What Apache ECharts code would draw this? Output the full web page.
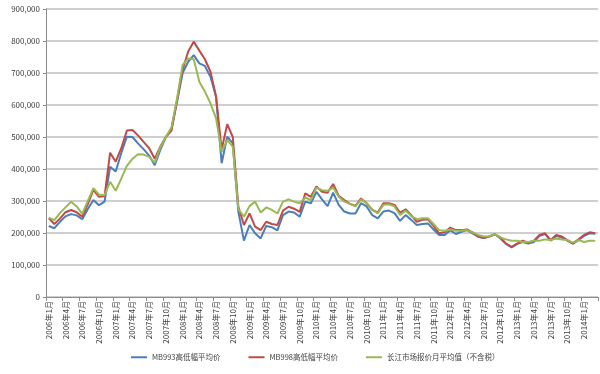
<!DOCTYPE html>
<html>
<head>
<meta charset="utf-8">
<script src="https://cdn.jsdelivr.net/npm/echarts@6/dist/echarts.min.js"></script>
<style>
html,body{margin:0;padding:0;background:#fff;}
#chart{width:600px;height:374px;}
</style>
</head>
<body>
<div id="chart"></div>
<script>
// Categories: monthly, 2006年1月 .. 2014年3月
var startYear = 2006, monthCount = 99;
var categories = [];
for (var k = 0; k < monthCount; k++) {
  categories.push((startYear + Math.floor(k / 12)) + '年' + (k % 12 + 1) + '月');
}

var seriesNames = ['MB993高低幅平均价', 'MB998高低幅平均价', '长江市场报价月平均值（不含税）'];

// values in thousands (yuan/ton)
var mb993 = [222,215,235,252,259,255,243,275,303,287,298,407,392,450,501,500,480,462,442,412,
  460,500,525,610,700,735,756,730,722,688,626,418,501,480,266,176,225,199,183,222,
  218,208,256,267,264,251,298,293,329,305,284,326,288,267,261,261,293,283,256,246,
  267,270,262,238,256,241,225,228,230,211,194,194,209,197,204,209,199,189,184,189,
  196,183,166,155,166,172,167,172,191,197,176,191,186,176,167,178,191,199,198];

var mb998 = [246,228,245,265,272,265,251,290,335,313,315,451,423,465,520,522,505,485,465,432,
  470,500,520,615,710,767,798,770,743,704,626,460,540,500,282,225,261,220,209,235,
  228,225,270,282,276,266,324,313,345,329,326,353,316,303,291,285,308,293,272,264,
  293,293,288,264,274,256,235,241,243,222,199,202,217,209,209,211,202,189,184,189,
  196,186,167,157,167,176,170,176,194,199,178,194,189,178,167,180,194,202,199];

var changjiang = [248,240,262,280,298,283,260,300,340,320,318,360,332,370,410,432,446,445,438,420,
  468,500,530,620,725,745,743,673,642,605,558,454,490,470,275,251,284,298,264,280,
  272,261,298,305,298,293,311,303,342,334,332,342,313,298,291,283,305,293,274,261,
  288,290,283,256,270,253,243,246,246,228,209,207,211,207,207,209,202,194,189,189,
  196,186,180,176,176,172,172,176,176,180,178,183,180,178,170,178,172,176,176];

var unit = 1000;
var colors = ['#4A7EBB', '#BE4B48', '#98B954'];
var font = '"Noto Sans CJK SC","Noto Sans",sans-serif';

function scale(arr) { return arr.map(function (v) { return v * unit; }); }

var chart = echarts.init(document.getElementById('chart'), null, {renderer: 'canvas'});
chart.setOption({
  animation: false,
  backgroundColor: '#ffffff',
  color: colors,
  textStyle: {fontFamily: font},
  grid: {left: 46, right: 2, top: 9, bottom: 77, containLabel: false},
  legend: {
    bottom: 8,
    left: 126,
    icon: 'rect',
    itemWidth: 16,
    itemHeight: 2,
    itemGap: 28,
    textStyle: {fontSize: 7.5, color: '#404040', fontFamily: font},
    data: seriesNames
  },
  xAxis: {
    type: 'category',
    data: categories,
    boundaryGap: true,
    axisLine: {lineStyle: {color: '#8c8c8c', width: 1}},
    axisTick: {show: true, interval: 2, length: 4, lineStyle: {color: '#8c8c8c'}},
    axisLabel: {interval: 2, rotate: 90, fontSize: 8, color: '#404040', margin: 4, fontFamily: font},
    splitLine: {show: false}
  },
  yAxis: {
    type: 'value',
    min: 0,
    max: 900000,
    interval: 100000,
    axisLine: {show: true, lineStyle: {color: '#8c8c8c', width: 1}},
    axisTick: {show: true, length: 3, lineStyle: {color: '#8c8c8c'}},
    axisLabel: {
      fontSize: 8, color: '#404040', margin: 6, fontFamily: font,
      formatter: function (v) { return v.toLocaleString('en-US'); }
    },
    splitLine: {lineStyle: {color: '#bfbfbf', width: 1.5}}
  },
  series: [
    {name: seriesNames[0], type: 'line', data: scale(mb993), showSymbol: false, lineStyle: {width: 2}},
    {name: seriesNames[1], type: 'line', data: scale(mb998), showSymbol: false, lineStyle: {width: 2}},
    {name: seriesNames[2], type: 'line', data: scale(changjiang), showSymbol: false, lineStyle: {width: 2}}
  ]
});
</script>
</body>
</html>
